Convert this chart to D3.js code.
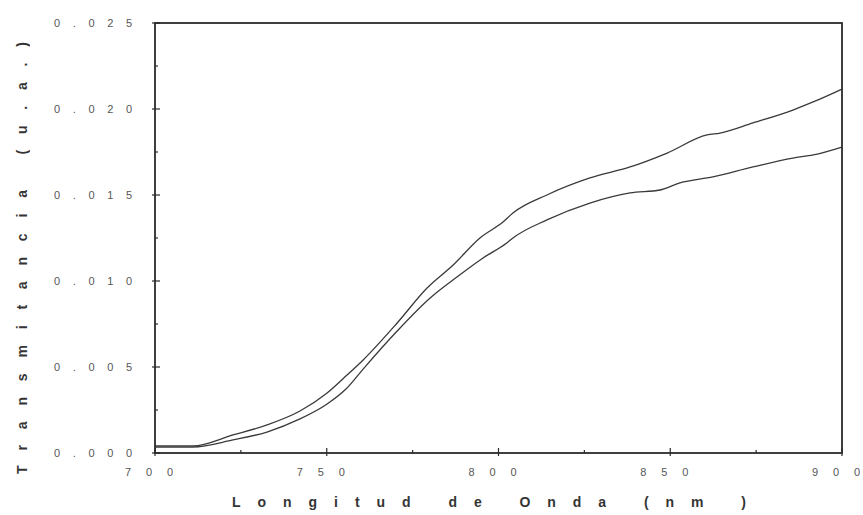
<!DOCTYPE html>
<html>
<head>
<meta charset="utf-8">
<script src="https://cdn.jsdelivr.net/npm/d3@7"></script>
<style>
  html, body { margin: 0; padding: 0; background: #fff; }
  svg { display: block; }
  text { opacity: 0.99; }
</style>
</head>
<body>
<svg id="chart" width="863" height="515"></svg>
<script>
// Wavelength (nm) and transmittance (a.u.) for the two measured spectra
const waveA = [700, 711, 722.7, 732.6, 742.2, 750.1, 755.9, 760.6, 770.5, 779.2, 786.8, 794.6, 801.3, 804.2, 814.1, 826.6, 838.3, 849.1, 860.7, 864.5, 874.1, 885.7, 891.6, 900];
const transA = [0.00041, 0.00041, 0.00105, 0.00163, 0.00244, 0.00349, 0.00453, 0.00541, 0.00756, 0.00959, 0.01093, 0.01250, 0.01343, 0.01395, 0.01500, 0.01599, 0.01663, 0.01744, 0.01849, 0.01860, 0.01919, 0.01994, 0.02041, 0.02116];

const waveB = [700, 711, 722.7, 732.6, 742.2, 750.1, 755.9, 760.6, 770.5, 780.1, 787.9, 795.5, 802.4, 804.2, 814.1, 826.6, 838.3, 847.0, 852.8, 862.4, 874.1, 885.7, 891.6, 900];
const transB = [0.00035, 0.00035, 0.00076, 0.00122, 0.00198, 0.00285, 0.00378, 0.00488, 0.00709, 0.00901, 0.01023, 0.01134, 0.01221, 0.01250, 0.01355, 0.01453, 0.01512, 0.01529, 0.01570, 0.01605, 0.01663, 0.01715, 0.01733, 0.01779];

// Axis ticks and their labels
const xTicks = [700, 750, 800, 850, 900];
const xMinor = [725, 775, 825, 875];
const yTicks = [0, 0.005, 0.010, 0.015, 0.020, 0.025];
const yLabels = ["0.000", "0.005", "0.010", "0.015", "0.020", "0.025"];
const yMinor = [0.0025, 0.0075, 0.0125, 0.0175, 0.0225];

const xTitle = "Longitud de Onda (nm )";
const yTitle = "Transmitancia (u.a.)";

const svg = d3.select("#chart");
const plotL = 155, plotR = 842, plotT = 23, plotB = 453;

const x = d3.scaleLinear().domain([700, 900]).range([plotL, plotR]);
const y = d3.scaleLinear().domain([0, 0.025]).range([plotB, plotT]);

const ink = "#2b2b2b";

// Spectra
const line = d3.line().x(d => x(d[0])).y(d => y(d[1])).curve(d3.curveMonotoneX);
[[waveA, transA], [waveB, transB]].forEach(([w, t]) => {
  svg.append("path")
    .datum(w.map((v, i) => [v, t[i]]))
    .attr("d", line)
    .attr("fill", "none")
    .attr("stroke", "#3a3a3a")
    .attr("stroke-width", 1.3);
});

// Frame
svg.append("rect")
  .attr("x", plotL).attr("y", plotT)
  .attr("width", plotR - plotL).attr("height", plotB - plotT)
  .attr("fill", "none").attr("stroke", ink).attr("stroke-width", 1.8);

// Bottom ticks
const gx = svg.append("g");
gx.selectAll("line.maj").data(xTicks).join("line").attr("class", "maj")
  .attr("x1", d => x(d)).attr("x2", d => x(d))
  .attr("y1", plotB - 5).attr("y2", plotB + 3)
  .attr("stroke", ink).attr("stroke-width", 1.2);
gx.selectAll("line.min").data(xMinor).join("line").attr("class", "min")
  .attr("x1", d => x(d)).attr("x2", d => x(d))
  .attr("y1", plotB - 3).attr("y2", plotB)
  .attr("stroke", ink).attr("stroke-width", 1.2);
gx.selectAll("text").data(xTicks).join("text")
  .attr("x", d => x(d) - 6).attr("y", 476)
  .attr("text-anchor", "middle")
  .attr("textLength", 48).attr("lengthAdjust", "spacing")
  .attr("font-family", "'Liberation Sans', Arial, sans-serif")
  .attr("font-size", 11).attr("fill", "#555")
  .text(d => String(d));

// Left ticks
const gy = svg.append("g");
gy.selectAll("line.maj").data(yTicks).join("line").attr("class", "maj")
  .attr("x1", plotL - 3).attr("x2", plotL + 5)
  .attr("y1", d => y(d)).attr("y2", d => y(d))
  .attr("stroke", ink).attr("stroke-width", 1.2);
gy.selectAll("line.min").data(yMinor).join("line").attr("class", "min")
  .attr("x1", plotL).attr("x2", plotL + 3)
  .attr("y1", d => y(d)).attr("y2", d => y(d))
  .attr("stroke", ink).attr("stroke-width", 1.2);
gy.selectAll("text").data(yTicks).join("text")
  .attr("x", 54).attr("y", d => y(d) + 4)
  .attr("textLength", 78).attr("lengthAdjust", "spacing")
  .attr("font-family", "'Liberation Sans', Arial, sans-serif")
  .attr("font-size", 11).attr("fill", "#555")
  .text((d, i) => yLabels[i]);

// Axis titles
svg.append("text")
  .attr("x", 232).attr("y", 507)
  .attr("textLength", 514).attr("lengthAdjust", "spacing")
  .attr("font-family", "'Liberation Sans', Arial, sans-serif")
  .attr("font-size", 14).attr("font-weight", "bold").attr("fill", "#333")
  .text(xTitle);

svg.append("text")
  .attr("transform", "translate(27,474) rotate(-90)")
  .attr("textLength", 432).attr("lengthAdjust", "spacing")
  .attr("font-family", "'Liberation Sans', Arial, sans-serif")
  .attr("font-size", 14).attr("font-weight", "bold").attr("fill", "#333")
  .text(yTitle);
</script>
</body>
</html>
